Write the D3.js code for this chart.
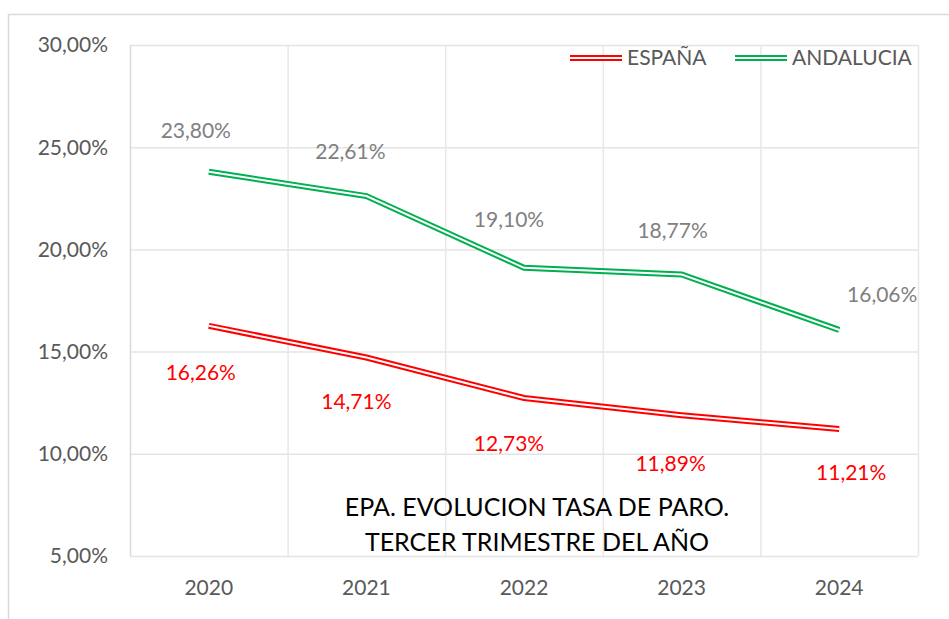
<!DOCTYPE html>
<html>
<head>
<meta charset="utf-8">
<script src="https://cdn.jsdelivr.net/npm/d3@7"></script>
<style>
  body { margin: 0; background: #fff; }
  svg { display: block; font-family: Lato, "Open Sans", sans-serif; }
</style>
</head>
<body>
<svg id="chart" width="949" height="619"></svg>
<script>
// datos
const years = ["2020", "2021", "2022", "2023", "2024"];
const espana = [16.26, 14.71, 12.73, 11.89, 11.21];
const andalucia = [23.80, 22.61, 19.10, 18.77, 16.06];
const yTicks = [5, 10, 15, 20, 25, 30];

// posiciones de las etiquetas (a mano, como en la hoja)
const espanaLabelOff = [[-8, 47], [-10, 44], [-15, 46], [-11, 48], [12, 44]];
const andaluciaLabelOff = [[-13, -41], [-16, -44], [-15, -48], [-9, -44], [43, -35]];

const svg = d3.select("#chart");
const fmt = v => v.toFixed(2).replace(".", ",") + "%";

// borde exterior
svg.append("rect")
   .attr("x", 8.5).attr("y", 14.5)
   .attr("width", 980).attr("height", 640)
   .attr("fill", "none")
   .attr("stroke", "#d9d9d9")
   .attr("stroke-width", 1.5);

const x = d3.scaleBand().domain(years).range([130, 918]).padding(0);
const y = d3.scaleLinear().domain([5, 30]).range([556, 45]);
const cx = d => x(d) + x.bandwidth() / 2;

// rejilla horizontal
svg.append("g")
   .selectAll("line")
   .data(yTicks)
   .enter().append("line")
   .attr("x1", 130).attr("x2", 918)
   .attr("y1", d => y(d) + 0.5).attr("y2", d => y(d) + 0.5)
   .attr("stroke", "#e4e4e4")
   .attr("stroke-width", 1.5);

// rejilla vertical
svg.append("g")
   .selectAll("line")
   .data(years.concat(["end"]))
   .enter().append("line")
   .attr("x1", (d, i) => 130 + i * x.bandwidth() + 0.5)
   .attr("x2", (d, i) => 130 + i * x.bandwidth() + 0.5)
   .attr("y1", 45).attr("y2", 556)
   .attr("stroke", (d, i) => i === 0 ? "#d9d9d9" : "#e8e8e8")
   .attr("stroke-width", 1.5);

// etiquetas eje Y
svg.append("g")
   .selectAll("text")
   .data(yTicks)
   .enter().append("text")
   .attr("x", 108)
   .attr("y", d => y(d))
   .attr("dy", "0.35em")
   .attr("text-anchor", "end")
   .attr("fill", "#595959")
   .style("font-size", "21px")
   .text(d => d.toFixed(2).replace(".", ",") + "%");

// etiquetas eje X
svg.append("g")
   .selectAll("text")
   .data(years)
   .enter().append("text")
   .attr("x", d => cx(d))
   .attr("y", 588)
   .attr("dy", "0.35em")
   .attr("text-anchor", "middle")
   .attr("fill", "#595959")
   .style("font-size", "21px")
   .text(d => d);

// título
const title = svg.append("text")
   .attr("x", 537)
   .attr("text-anchor", "middle")
   .attr("fill", "#000")
   .style("font-size", "25px");
title.append("tspan").attr("x", 537).attr("y", 516).text("EPA. EVOLUCION TASA DE PARO.");
title.append("tspan").attr("x", 537).attr("y", 551).text("TERCER TRIMESTRE DEL AÑO");

// líneas dobles
const line = d3.line().x((d, i) => cx(years[i])).y(d => y(d));

function doubleLine(values, color) {
    svg.append("path")
       .attr("d", line(values))
       .attr("fill", "none")
       .attr("stroke", color)
       .attr("stroke-width", 6);
    svg.append("path")
       .attr("d", line(values))
       .attr("fill", "none")
       .attr("stroke", "#fff")
       .attr("stroke-width", 2);
}
doubleLine(andalucia, "#00b050");
doubleLine(espana, "#ff0000");

// etiquetas de datos
function labels(values, offs, color) {
    svg.append("g")
       .selectAll("text")
       .data(values)
       .enter().append("text")
       .attr("x", (d, i) => cx(years[i]) + offs[i][0])
       .attr("y", (d, i) => y(d) + offs[i][1])
       .attr("dy", "0.35em")
       .attr("text-anchor", "middle")
       .attr("fill", color)
       .style("font-size", "21px")
       .text(d => fmt(d));
}
labels(andalucia, andaluciaLabelOff, "#808080");
labels(espana, espanaLabelOff, "#ff0000");

// leyenda
const legend = [
    {name: "ESPAÑA", color: "#ff0000", x: 570},
    {name: "ANDALUCIA", color: "#00b050", x: 735}
];
legend.forEach(l => {
    svg.append("line")
       .attr("x1", l.x).attr("x2", l.x + 52)
       .attr("y1", 58).attr("y2", 58)
       .attr("stroke", l.color).attr("stroke-width", 6);
    svg.append("line")
       .attr("x1", l.x).attr("x2", l.x + 52)
       .attr("y1", 58).attr("y2", 58)
       .attr("stroke", "#fff").attr("stroke-width", 2);
    svg.append("text")
       .attr("x", l.x + 57)
       .attr("y", 58)
       .attr("dy", "0.35em")
       .attr("fill", "#595959")
       .style("font-size", "21px")
       .text(l.name);
});
</script>
</body>
</html>
